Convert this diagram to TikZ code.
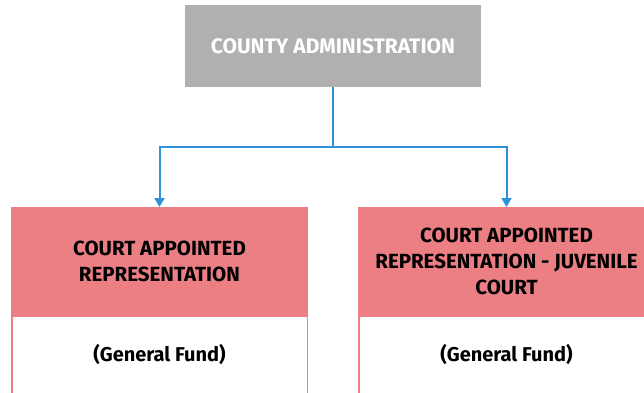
\documentclass[tikz,border=0pt]{standalone}
\usepackage{fontspec}
\setmainfont{Fira Sans}
\usetikzlibrary{arrows.meta}
\definecolor{adminGray}{HTML}{B0B0B0}
\definecolor{courtPink}{HTML}{EB7F84}
\definecolor{linkBlue}{HTML}{2E93D8}
\tikzset{
	headbox/.style={fill=courtPink, minimum width=297pt, minimum height=109pt, inner sep=0pt,
		align=center, font=\bfseries\fontsize{20.5}{26}\selectfont},
	fundbox/.style={draw=courtPink, fill=white, line width=1.5pt, minimum width=295.5pt,
		minimum height=90pt, inner sep=0pt},
	link/.style={draw=linkBlue, line width=2pt},
}
\begin{document}
\begin{tikzpicture}[x=1pt,y=-1pt]
	\useasboundingbox (0,0) rectangle (644,392);
	\clip (0,0) rectangle (644,392);
	
	\node[fill=adminGray, minimum width=296pt, minimum height=82pt, inner sep=0pt,
		text=white, font=\bfseries\fontsize{21}{24}\selectfont] (admin) at (333,46) {COUNTY ADMINISTRATION};
	
	% child boxes
	\node[fundbox, anchor=north] (fundA) at (159.5,315) {};
	\node[fundbox, anchor=north] (fundB) at (506.5,315) {};
	\node[headbox, anchor=north] (crtA) at (159.5,207) {COURT APPOINTED\\REPRESENTATION};
	\node[headbox, anchor=north] (crtB) at (506.5,207) {COURT APPOINTED\\REPRESENTATION - JUVENILE\\COURT};
	\node[font=\bfseries\fontsize{20}{24}\selectfont] (gfA) at (159.5,354) {(General Fund)};
	\node[font=\bfseries\fontsize{20}{24}\selectfont] (gfB) at (506.5,354) {(General Fund)};
	
	\coordinate (split) at (333,147);
	\draw[link] (admin.south) -- (split);
	\draw[link, -{Triangle[width=10pt,length=9pt]}] (split) -| (crtA.north);
	\draw[link, -{Triangle[width=10pt,length=9pt]}] (split) -| (crtB.north);
\end{tikzpicture}
\end{document}
